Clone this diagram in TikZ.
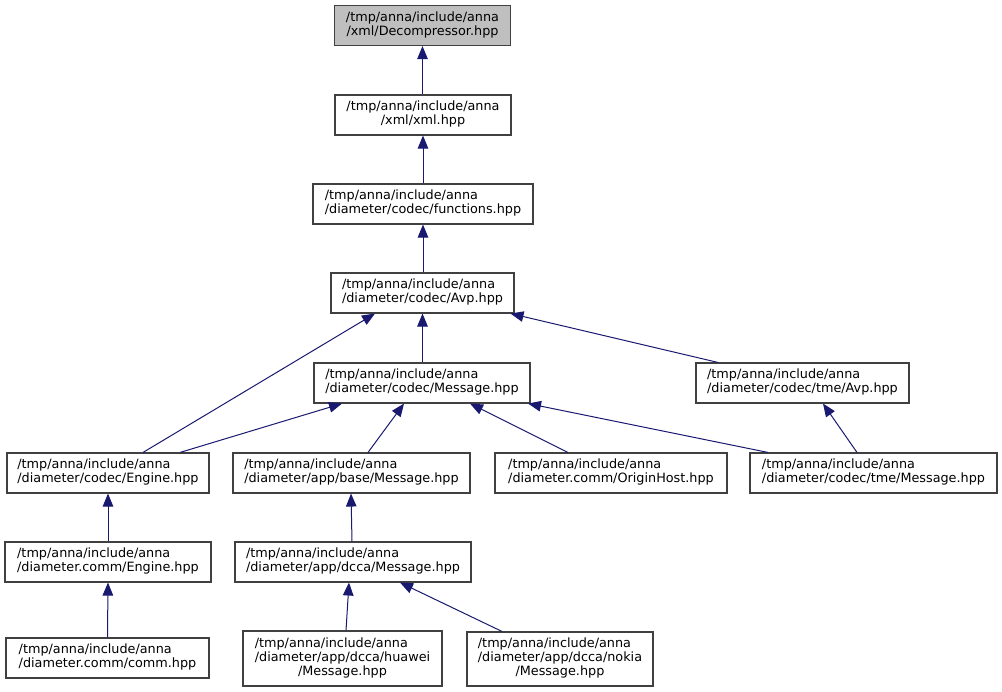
\documentclass[tikz,border=0pt]{standalone}
\usepackage{fontspec}
\setmainfont{DejaVu Sans}
\usetikzlibrary{arrows.meta}
\definecolor{edgeblue}{HTML}{191970}
\definecolor{boxgray}{HTML}{404040}
\definecolor{rootfill}{HTML}{BFBFBF}
\newcommand{\twol}[2]{\begin{tabular}{@{}l@{}}#1\\\multicolumn{1}{@{}c@{}}{#2}\end{tabular}}
\newcommand{\threel}[3]{\begin{tabular}{@{}l@{}}#1\\#2\\\multicolumn{1}{@{}c@{}}{#3}\end{tabular}}
\begin{document}
\begin{tikzpicture}[x=1pt,y=-1pt,
  filebox/.style={draw=boxgray, line width=1.1pt, fill=white, inner sep=0pt,
    font=\fontsize{12.8}{14.5}\selectfont, align=left},
  edge/.style={draw=edgeblue, line width=1pt, {Triangle[length=13pt,width=10.5pt]}-}]
\useasboundingbox (0,0) rectangle (1002,692);
\renewcommand{\arraystretch}{0.95}
\node[filebox, fill=rootfill, minimum width=176, minimum height=40] (dec) at (422.5,25.5) {\twol{/tmp/anna/include/anna}{/xml/Decompressor.hpp}};
\node[filebox, minimum width=176, minimum height=40] (xml) at (423,115) {\twol{/tmp/anna/include/anna}{/xml/xml.hpp}};
\node[filebox, minimum width=220, minimum height=40] (fun) at (423,204) {\twol{/tmp/anna/include/anna}{/diameter/codec/functions.hpp}};
\node[filebox, minimum width=183, minimum height=40] (avp) at (422.5,293) {\twol{/tmp/anna/include/anna}{/diameter/codec/Avp.hpp}};
\node[filebox, minimum width=216, minimum height=40] (cmsg) at (422,383) {\twol{/tmp/anna/include/anna}{/diameter/codec/Message.hpp}};
\node[filebox, minimum width=213, minimum height=40] (tavp) at (802.5,383) {\twol{/tmp/anna/include/anna}{/diameter/codec/tme/Avp.hpp}};
\node[filebox, minimum width=202, minimum height=40] (ceng) at (108,473) {\twol{/tmp/anna/include/anna}{/diameter/codec/Engine.hpp}};
\node[filebox, minimum width=237, minimum height=40] (bmsg) at (351.5,473) {\twol{/tmp/anna/include/anna}{/diameter/app/base/Message.hpp}};
\node[filebox, minimum width=232, minimum height=40] (oh) at (611,473) {\twol{/tmp/anna/include/anna}{/diameter.comm/OriginHost.hpp}};
\node[filebox, minimum width=247, minimum height=40] (tmsg) at (873.5,473) {\twol{/tmp/anna/include/anna}{/diameter/codec/tme/Message.hpp}};
\node[filebox, minimum width=206, minimum height=40] (eng) at (108,562) {\twol{/tmp/anna/include/anna}{/diameter.comm/Engine.hpp}};
\node[filebox, minimum width=236, minimum height=40] (dcca) at (353,562) {\twol{/tmp/anna/include/anna}{/diameter/app/dcca/Message.hpp}};
\node[filebox, minimum width=203, minimum height=40] (comm) at (107.5,658) {\twol{/tmp/anna/include/anna}{/diameter.comm/comm.hpp}};
\node[filebox, minimum width=199, minimum height=55] (hua) at (342.5,658.5) {\threel{/tmp/anna/include/anna}{/diameter/app/dcca/huawei}{/Message.hpp}};
\node[filebox, minimum width=186, minimum height=54] (nok) at (560,659) {\threel{/tmp/anna/include/anna}{/diameter/app/dcca/nokia}{/Message.hpp}};
% edges (arrow at included file)
\draw[edge] (dec.south) -- (xml.north -| dec.south);
\draw[edge] (xml.south) -- (fun.north -| xml.south);
\draw[edge] (fun.south) -- (avp.north -| fun.south);
\draw[edge] (avp.south) -- (cmsg.north -| avp.south);
\draw[edge] ([xshift=-47.5]avp.south) -- ([xshift=35]ceng.north);
\draw[edge] ([xshift=88]avp.south) -- ([xshift=-84.5]tavp.north);
\draw[edge] ([xshift=-80]cmsg.south) -- ([xshift=72]ceng.north);
\draw[edge] ([xshift=-18]cmsg.south) -- ([xshift=16.5]bmsg.north);
\draw[edge] ([xshift=48]cmsg.south) -- ([xshift=-43]oh.north);
\draw[edge] ([xshift=106]cmsg.south) -- ([xshift=-105.5]tmsg.north);
\draw[edge] ([xshift=20.5]tavp.south) -- ([xshift=-16.5]tmsg.north);
\draw[edge] (ceng.south) -- (eng.north);
\draw[edge] (eng.south) -- (comm.north);
\draw[edge] ([xshift=-0.5]bmsg.south) -- ([xshift=-1]dcca.north);
\draw[edge] ([xshift=-4]dcca.south) -- ([xshift=3.5]hua.north);
\draw[edge] ([xshift=47]dcca.south) -- ([xshift=-58]nok.north);
\end{tikzpicture}
\end{document}
